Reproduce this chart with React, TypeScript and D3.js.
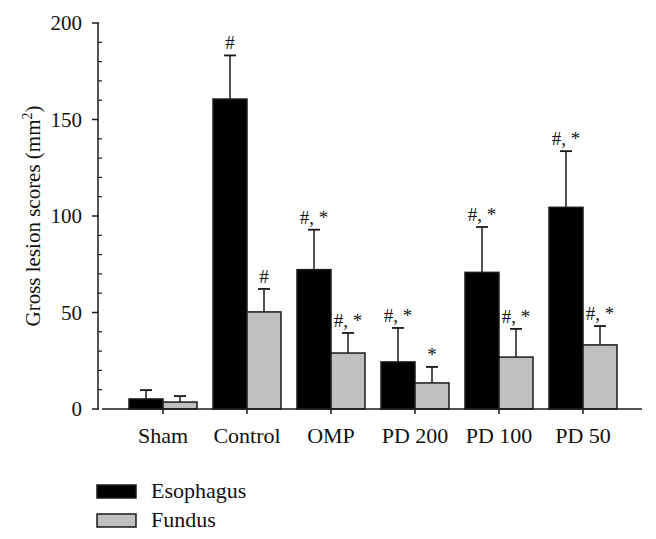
import React from "react";
import * as d3 from "d3";

const categories = ["Sham", "Control", "OMP", "PD 200", "PD 100", "PD 50"];
const esophagus = [5.2, 160.6, 72.2, 24.4, 70.8, 104.5];
const esophagusErr = [4.6, 22.6, 20.7, 17.6, 23.5, 29.1];
const fundus = [3.6, 50.3, 29.0, 13.5, 26.9, 33.2];
const fundusErr = [3.1, 11.9, 10.4, 8.3, 14.6, 9.8];
const esophagusSig = ["", "#", "#, *", "#, *", "#, *", "#, *"];
const fundusSig = ["", "#", "#, *", "*", "#, *", "#, *"];
const majorTicks = [0, 50, 100, 150, 200];
const minorTicks = d3.range(0, 201, 10).filter((v) => v % 50 !== 0);
const seriesNames = ["Esophagus", "Fundus"];
const seriesColors = ["#000000", "#c0c0c0"];

const W = 656;
const H = 539;
const FONT = "'Liberation Serif', 'Times New Roman', serif";

export default function App() {
  const y = d3.scaleLinear().domain([0, 200]).range([409, 23]);
  const x = d3.scaleBand<string>().domain(categories).range([121, 625]).padding(0);
  const bw = 34;
  const axisX = 98;
  const cap = 12;
  const stroke = "#1a1a1a";

  const series = [
    { vals: esophagus, err: esophagusErr, sig: esophagusSig, off: -bw, color: seriesColors[0] },
    { vals: fundus, err: fundusErr, sig: fundusSig, off: 0, color: seriesColors[1] },
  ];

  return (
    <svg width={W} height={H} style={{ position: "absolute", left: 0, top: 0, background: "#fff" }} fontFamily={FONT}>
      {/* error bars (behind bars) */}
      {series.map((s, si) =>
        categories.map((c, i) => {
          const cx = (x(c) as number) + x.bandwidth() / 2 + s.off + bw / 2;
          const top = y(s.vals[i] + s.err[i]);
          return (
            <g key={`e${si}-${i}`}>
              <line x1={cx} x2={cx} y1={y(s.vals[i])} y2={top} stroke={stroke} strokeWidth={1.5} />
              <line x1={cx - cap / 2} x2={cx + cap / 2} y1={top} y2={top} stroke={stroke} strokeWidth={1.8} />
              {s.sig[i] && (
                <text x={cx} y={top - 6} textAnchor="middle" fontSize={19} fill="#111">
                  {s.sig[i]}
                </text>
              )}
            </g>
          );
        })
      )}
      {/* bars */}
      {series.map((s, si) =>
        categories.map((c, i) => {
          const bx = (x(c) as number) + x.bandwidth() / 2 + s.off;
          return (
            <rect
              key={`b${si}-${i}`}
              x={bx}
              y={y(s.vals[i])}
              width={bw}
              height={y(0) - y(s.vals[i])}
              fill={s.color}
              stroke={stroke}
              strokeWidth={1.5}
            />
          );
        })
      )}
      {/* y axis */}
      <line x1={axisX} x2={axisX} y1={y(200)} y2={y(0)} stroke={stroke} strokeWidth={1.5} />
      {majorTicks.map((t) => (
        <g key={`mt${t}`}>
          <line x1={axisX - 6} x2={axisX + 1} y1={y(t)} y2={y(t)} stroke={stroke} strokeWidth={1.5} />
          <text x={axisX - 16} y={y(t)} dy="0.35em" textAnchor="end" fontSize={21} fill="#111">
            {t}
          </text>
        </g>
      ))}
      {minorTicks.map((t) => (
        <line key={`mn${t}`} x1={axisX} x2={axisX + 4} y1={y(t)} y2={y(t)} stroke={stroke} strokeWidth={1.2} />
      ))}
      <text
        transform={`translate(40, 216) rotate(-90)`}
        textAnchor="middle"
        fontSize={21}
        fill="#111"
      >
        Gross lesion scores (mm
        <tspan dy={-8} fontSize={14}>2</tspan>
        <tspan dy={8}>)</tspan>
      </text>
      {/* x axis */}
      <line x1={102} x2={642} y1={y(0)} y2={y(0)} stroke={stroke} strokeWidth={1.5} />
      {categories.map((c) => {
        const cx = (x(c) as number) + x.bandwidth() / 2;
        return (
          <g key={`xt${c}`}>
            <line x1={cx} x2={cx} y1={y(0)} y2={y(0) + 5} stroke={stroke} strokeWidth={1.5} />
            <text x={cx} y={443} textAnchor="middle" fontSize={22} fill="#111">
              {c}
            </text>
          </g>
        );
      })}
      {/* legend */}
      {seriesNames.map((n, i) => (
        <g key={`lg${n}`} transform={`translate(97, ${485 + i * 29})`}>
          <rect x={0} y={0} width={39} height={13} fill={seriesColors[i]} stroke={stroke} strokeWidth={1.5} />
          <text x={54} y={13} fontSize={22} fill="#111">
            {n}
          </text>
        </g>
      ))}
    </svg>
  );
}
